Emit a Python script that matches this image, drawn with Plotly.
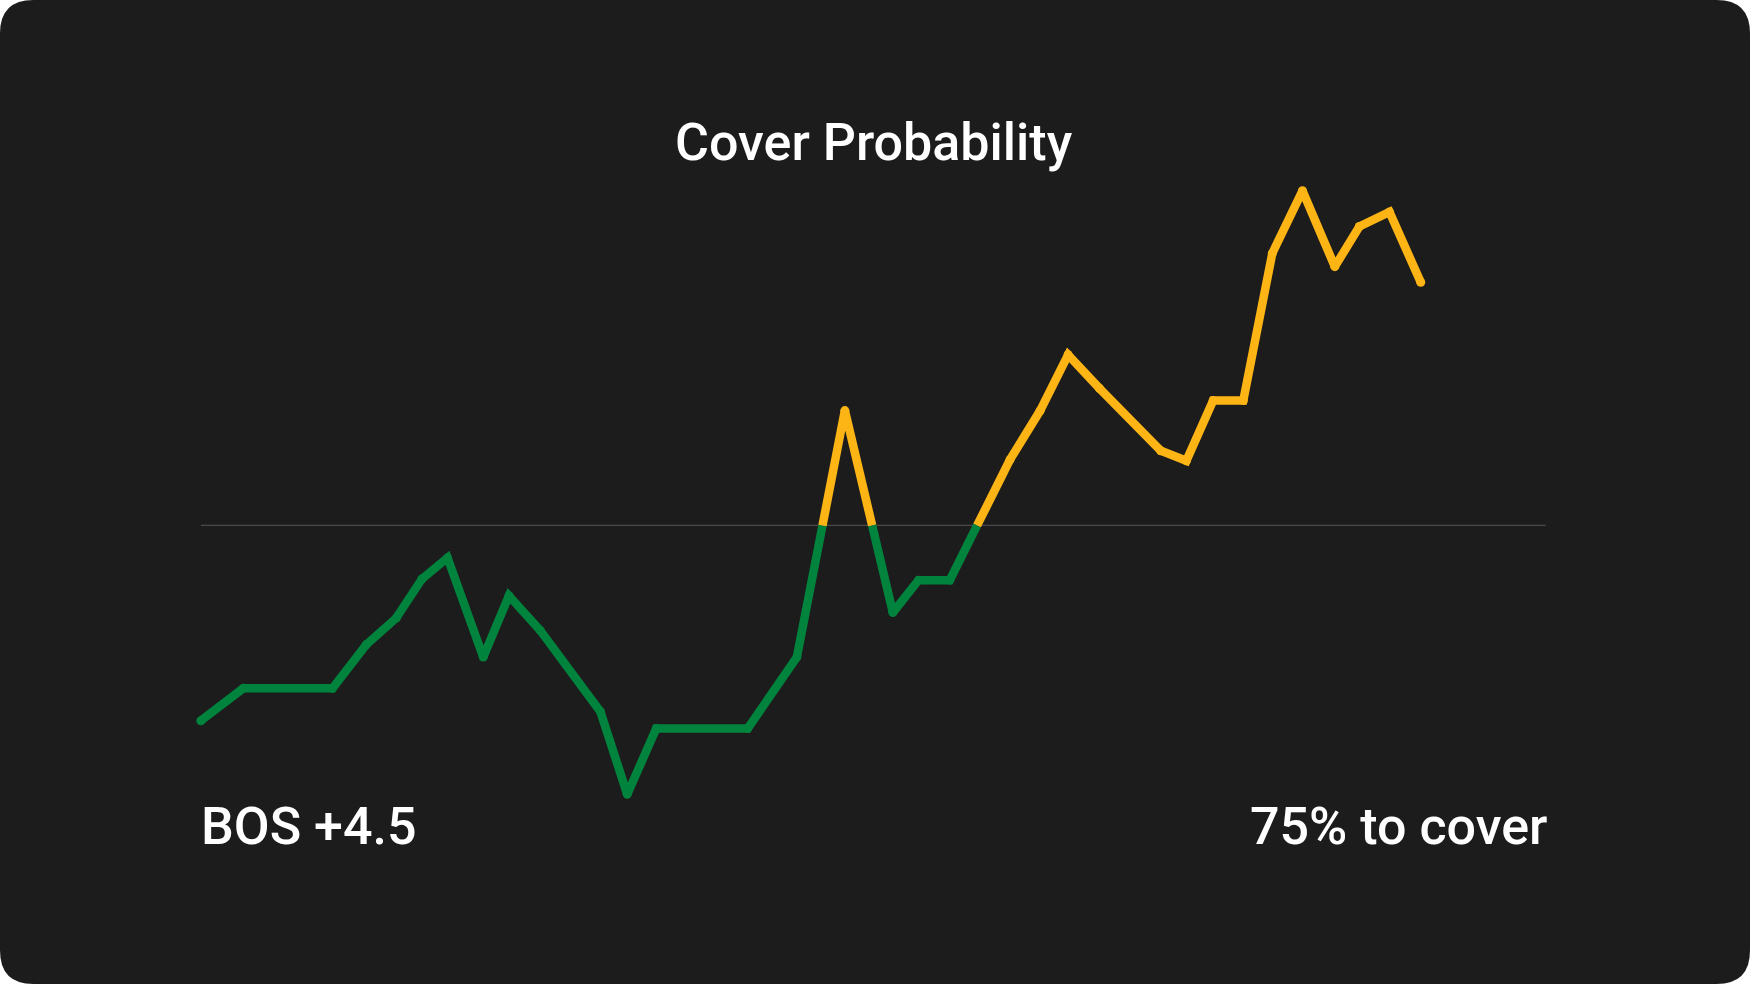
import plotly.graph_objects as go

W, H = 1568, 882
xs = [180,218,298,328,355,378,401,433,456,484,538,562,588,670,714,757,800,823,851,905,932,957,985,1040,1063,1087,1114,1140,1167,1196,1218,1245,1273]
ys_img = [646,617,617,578,554,519,500,589,534,565,638,712,653,653,589,368,549,520,520,412,368,318,348,404,413,359,359,227,171,239,203,190,253]
BASE = 471
vals = [BASE - y for y in ys_img]

GREEN, GOLD = "#00843D", "#FDB515"

segs = []
cur_x, cur_y = [xs[0]], [vals[0]]
cur_pos = vals[0] > 0
for i in range(1, len(xs)):
    x0, y0, x1, y1 = xs[i-1], vals[i-1], xs[i], vals[i]
    pos = y1 > 0
    if pos != cur_pos:
        xc = x0 + (0 - y0) * (x1 - x0) / (y1 - y0)
        cur_x.append(xc); cur_y.append(0)
        segs.append((cur_pos, cur_x, cur_y))
        cur_x, cur_y, cur_pos = [xc], [0], pos
    cur_x.append(x1); cur_y.append(y1)
segs.append((cur_pos, cur_x, cur_y))

fig = go.Figure()
fig.add_trace(go.Scatter(x=[180, 1385], y=[0, 0], mode="lines",
                         line=dict(color="#4a4a4a", width=1.2), hoverinfo="skip"))
for pos, sx, sy in segs:
    fig.add_trace(go.Scatter(x=sx, y=sy, mode="lines",
                             line=dict(color=GOLD if pos else GREEN, width=8.5),
                             hoverinfo="skip"))
for pos in (False, True):
    px = [x for x, v in zip(xs, vals) if (v > 0) == pos]
    py = [v for v in vals if (v > 0) == pos]
    fig.add_trace(go.Scatter(x=px, y=py, mode="markers",
                             marker=dict(color=GOLD if pos else GREEN, size=9), hoverinfo="skip"))

rx, ry = 30 / W, 30 / H
path = (f"M {rx},0 L {1-rx},0 Q 1,0 1,{ry} L 1,{1-ry} Q 1,1 {1-rx},1 "
        f"L {rx},1 Q 0,1 0,{1-ry} L 0,{ry} Q 0,0 {rx},0 Z")
fig.add_shape(type="path", path=path, xref="paper", yref="paper",
              fillcolor="#1c1c1c", line=dict(width=0), layer="below")

font = dict(family="Roboto", color="white", size=52, weight=500)
fig.add_annotation(text="Cover Probability", x=783 / W, y=1 - 128 / H, xref="paper", yref="paper",
                   showarrow=False, font=font, xanchor="center", yanchor="middle")
fig.add_annotation(text="BOS +4.5", x=178 / W, y=1 - 741 / H, xref="paper", yref="paper",
                   showarrow=False, font=font, xanchor="left", yanchor="middle")
fig.add_annotation(text="75% to cover", x=1388 / W, y=1 - 741 / H, xref="paper", yref="paper",
                   showarrow=False, font=font, xanchor="right", yanchor="middle")

fig.update_layout(width=1750, height=984, margin=dict(l=0, r=0, t=0, b=0),
                  paper_bgcolor="white", plot_bgcolor="rgba(0,0,0,0)", showlegend=False,
                  xaxis=dict(range=[0, W], visible=False, fixedrange=True),
                  yaxis=dict(range=[BASE - H, BASE], visible=False, fixedrange=True))
fig.write_html("out.html", config={"displayModeBar": False},
               post_script="document.body.style.margin='0';document.body.style.overflow='hidden';")
